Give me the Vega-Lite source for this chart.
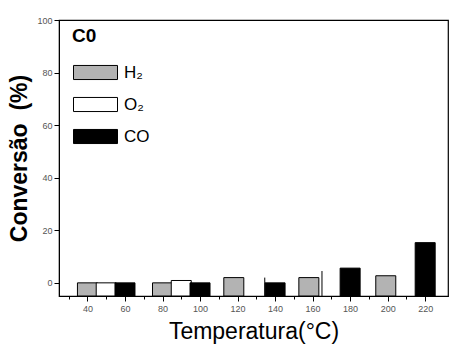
{
  "$schema": "https://vega.github.io/schema/vega-lite/v6.json",
  "width": 389,
  "height": 276,
  "autosize": {"type": "none"},
  "padding": {"left": 59, "top": 20, "right": 1, "bottom": 48},
  "background": "white",
  "config": {
    "font": "Liberation Sans",
    "view": {"stroke": "black", "strokeWidth": 1.2},
    "axis": {"domainColor": "black", "tickColor": "black", "labelColor": "#555555", "labelFontSize": 9, "titleColor": "black", "grid": false}
  },
  "title": {"text": "C0", "anchor": "start", "frame": "group", "orient": "top", "offset": -30, "dx": 13, "fontSize": 19, "fontWeight": "bold", "font": "Liberation Sans", "color": "black"},
  "layer": [
    {
      "data": {"values": [
        {"T": 40, "gas": "H₂", "value": 0},
        {"T": 50, "gas": "O₂", "value": 0},
        {"T": 60, "gas": "CO", "value": 0},
        {"T": 80, "gas": "H₂", "value": 0},
        {"T": 90, "gas": "O₂", "value": 0.9},
        {"T": 100, "gas": "CO", "value": 0},
        {"T": 118, "gas": "H₂", "value": 2},
        {"T": 140, "gas": "CO", "value": 0},
        {"T": 158, "gas": "H₂", "value": 2},
        {"T": 180, "gas": "CO", "value": 5.6},
        {"T": 199, "gas": "H₂", "value": 2.7},
        {"T": 220, "gas": "CO", "value": 15.3}
      ]},
      "mark": {"type": "bar", "size": 20, "stroke": "black", "strokeWidth": 1},
      "encoding": {
        "x": {
          "field": "T", "type": "quantitative",
          "scale": {"domain": [27.5, 229.5], "nice": false, "zero": false},
          "axis": {
            "values": [30, 40, 50, 60, 70, 80, 90, 100, 110, 120, 130, 140, 150, 160, 170, 180, 190, 200, 210, 220],
            "tickCount": 40,
            "labelExpr": "(datum.value % 20 == 0) ? format(datum.value, 'd') : ''",
            "labelOverlap": false,
            "labelFlush": false,
            "tickSize": {"condition": {"test": "datum.value % 20 == 0", "value": 5}, "value": 3},
            "labelPadding": 3,
            "title": "Temperatura(°C)",
            "titleFontSize": 23,
            "titleFontWeight": "normal",
            "titlePadding": 7
          }
        },
        "y": {
          "field": "value", "type": "quantitative",
          "scale": {"domain": [-5, 100], "nice": false, "zero": false},
          "axis": {
            "values": [0, 20, 40, 60, 80, 100],
            "tickSize": 5,
            "labelPadding": 2,
            "title": "Conversão\u00a0\u00a0(%)",
            "titleFontSize": 23,
            "titleFontWeight": "bold",
            "titlePadding": 5
          }
        },
        "y2": {"datum": -5},
        "fill": {
          "field": "gas", "type": "nominal",
          "scale": {"domain": ["H₂", "O₂", "CO"], "range": ["#b3b3b3", "#ffffff", "#000000"]},
          "legend": {
            "title": null,
            "orient": "none",
            "legendX": 14,
            "legendY": 30,
            "symbolType": "M-1,-0.32H1V0.32H-1Z",
            "symbolSize": 1936,
            "symbolStrokeColor": "black",
            "symbolStrokeWidth": 1,
            "symbolOpacity": 1,
            "labelFontSize": 17,
            "labelColor": "black",
            "labelOffset": 6,
            "rowPadding": -22
          }
        }
      }
    },
    {
      "data": {"values": [
        {"T": 134.5, "top": 2},
        {"T": 165, "top": 4.5}
      ]},
      "mark": {"type": "rule", "color": "black", "strokeWidth": 1},
      "encoding": {
        "x": {"field": "T", "type": "quantitative"},
        "y": {"field": "top", "type": "quantitative"},
        "y2": {"datum": -5}
      }
    }
  ]
}
